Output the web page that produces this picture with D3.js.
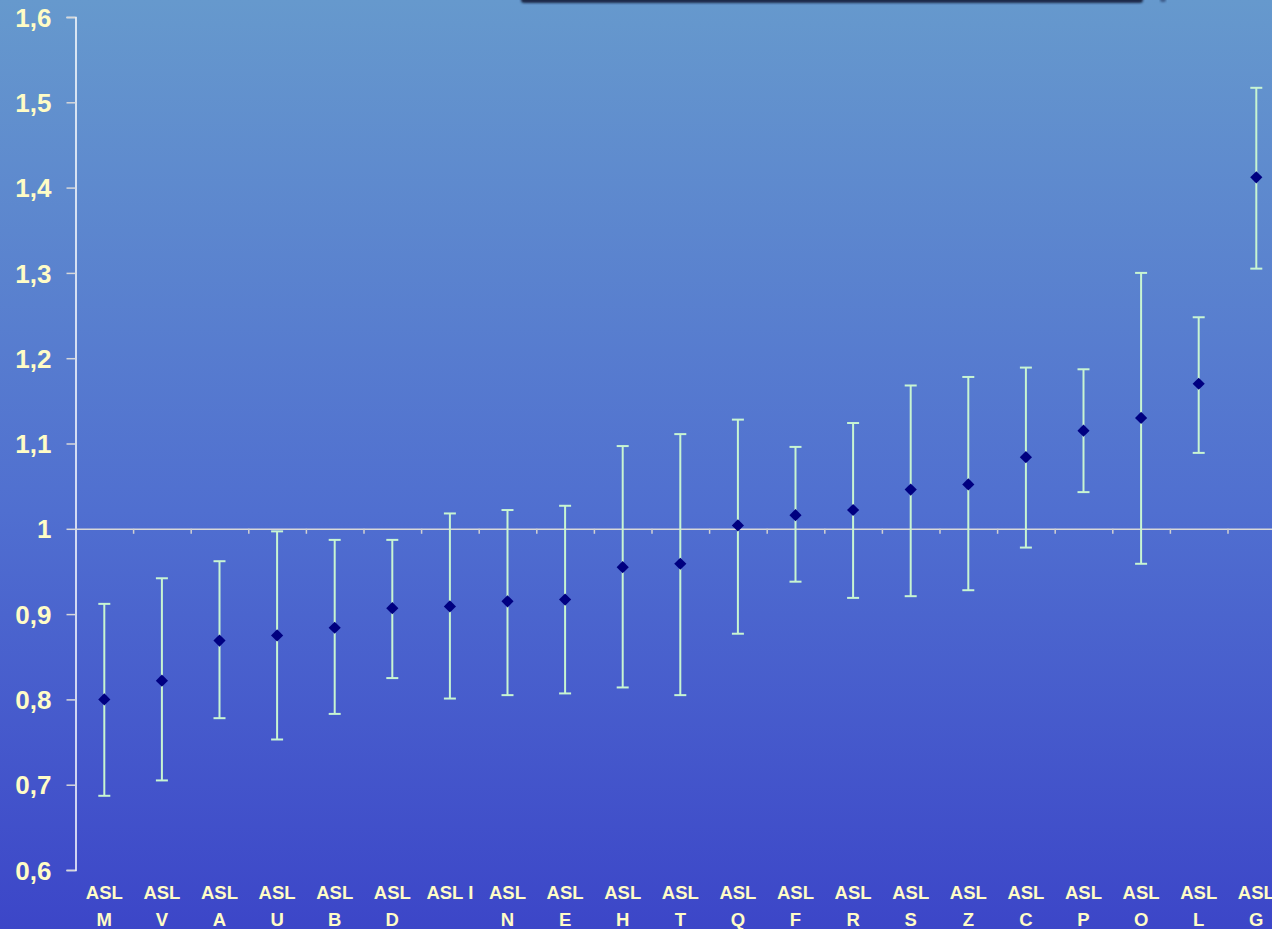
<!DOCTYPE html>
<html>
<head>
<meta charset="utf-8">
<script src="https://cdn.jsdelivr.net/npm/d3@7"></script>
<style>
  html, body { margin: 0; padding: 0; overflow: hidden; background: #5070cc; }
  svg { display: block; }
  text { font-family: "Liberation Sans", Arial, sans-serif; font-weight: bold; }
</style>
</head>
<body>
<svg id="chart" width="1272" height="929"></svg>
<script>
// Category codes (shown as "ASL" + code under each position)
const categories = ["M","V","A","U","B","D","I","N","E","H","T","Q","F","R","S","Z","C","P","O","L","G"];
// Point estimates
const estimates = [0.800,0.822,0.869,0.875,0.884,0.907,0.909,0.915,0.917,0.955,0.959,1.004,1.016,1.022,1.046,1.052,1.084,1.115,1.130,1.170,1.412];
// Lower and upper interval limits
const lowerCI = [0.687,0.705,0.778,0.753,0.783,0.825,0.801,0.805,0.807,0.814,0.805,0.877,0.938,0.919,0.921,0.928,0.978,1.043,0.959,1.089,1.305];
const upperCI = [0.912,0.942,0.962,0.997,0.987,0.987,1.018,1.022,1.027,1.097,1.111,1.128,1.096,1.124,1.168,1.178,1.189,1.187,1.300,1.248,1.517];
// Y-axis tick values
const yTicks = [0.6,0.7,0.8,0.9,1.0,1.1,1.2,1.3,1.4,1.5,1.6];

const W = 1272, H = 929;
const svg = d3.select("#chart");

// Background gradient
const defs = svg.append("defs");
const grad = defs.append("linearGradient").attr("id","bg").attr("x1",0).attr("y1",0).attr("x2",0).attr("y2",1);
grad.append("stop").attr("offset","0%").attr("stop-color","#6699cd");
grad.append("stop").attr("offset","55%").attr("stop-color","#506fd0");
grad.append("stop").attr("offset","100%").attr("stop-color","#3c46c8");
svg.append("rect").attr("width",W).attr("height",H).attr("fill","url(#bg)");

// Shadowed box edge at the top of the slide
const blur = defs.append("filter").attr("id","soft").attr("x","-5%").attr("y","-100%").attr("width","110%").attr("height","300%");
blur.append("feGaussianBlur").attr("stdDeviation",1.3);
svg.append("rect").attr("x",521).attr("y",-12).attr("width",622).attr("height",15)
  .attr("rx",3).attr("fill","#1c2a4a").attr("filter","url(#soft)");
svg.append("ellipse").attr("cx",1163).attr("cy",0).attr("rx",3).attr("ry",2)
  .attr("fill","#3a5a88").attr("filter","url(#soft)");

// Scales
const left = 75.5, bandW = 57.6;
const x = d3.scaleLinear().domain([0, categories.length]).range([left, left + bandW * categories.length]);
const y = d3.scaleLinear().domain([0.6, 1.6]).range([870, 17]);

// Y axis
const yAxis = svg.append("g").attr("transform", `translate(${left},0)`)
  .call(d3.axisLeft(y).tickValues(yTicks).tickSize(9).tickPadding(15)
    .tickFormat(d => d === 1 ? "1" : d3.format(".1f")(d).replace(".", ",")));
yAxis.select(".domain").attr("stroke","#ffffff").attr("stroke-width",1.5);
yAxis.selectAll(".tick line").attr("stroke","#d8d8d8").attr("stroke-width",1.5);
yAxis.selectAll(".tick text").attr("fill","#fffcc6").attr("font-size","26px")
  .attr("font-weight","bold").attr("dy","0.35em");

// X axis crossing at 1
const xAxis = svg.append("g").attr("transform", `translate(0,${y(1)})`)
  .call(d3.axisBottom(x).tickValues(d3.range(1, categories.length + 1)).tickSize(5).tickSizeOuter(0).tickFormat(""));
xAxis.select(".domain").attr("stroke","#d8d8d8").attr("stroke-width",1.5);
xAxis.selectAll(".tick line").attr("stroke","#d0d0d0").attr("stroke-width",1.5);

// Category labels
const labels = svg.append("g");
categories.forEach((c, i) => {
  const cx = x(i + 0.5);
  const t = labels.append("text").attr("x", cx).attr("text-anchor","middle")
    .attr("fill","#fffcc6").attr("font-size","18.5px");
  if (c === "I") {
    t.attr("y", 899).text("ASL I");
  } else {
    t.append("tspan").attr("x", cx).attr("y", 899).text("ASL");
    t.append("tspan").attr("x", cx).attr("y", 925.5).text(c);
  }
});

// Error bars
const bars = svg.append("g").attr("stroke","#c8f5d2").attr("stroke-width",2).attr("fill","none");
categories.forEach((c, i) => {
  const cx = x(i + 0.5);
  bars.append("line").attr("x1",cx).attr("x2",cx).attr("y1",y(lowerCI[i])).attr("y2",y(upperCI[i]));
  bars.append("line").attr("x1",cx-6).attr("x2",cx+6).attr("y1",y(lowerCI[i])).attr("y2",y(lowerCI[i]));
  bars.append("line").attr("x1",cx-6).attr("x2",cx+6).attr("y1",y(upperCI[i])).attr("y2",y(upperCI[i]));
});

// Diamond markers
const diamond = d3.symbol().type(d3.symbolSquare).size(74);
svg.append("g").selectAll("path").data(estimates).join("path")
  .attr("d", diamond)
  .attr("transform", (d, i) => `translate(${x(i + 0.5)},${y(d)}) rotate(45)`)
  .attr("fill","#000080");
</script>
</body>
</html>
